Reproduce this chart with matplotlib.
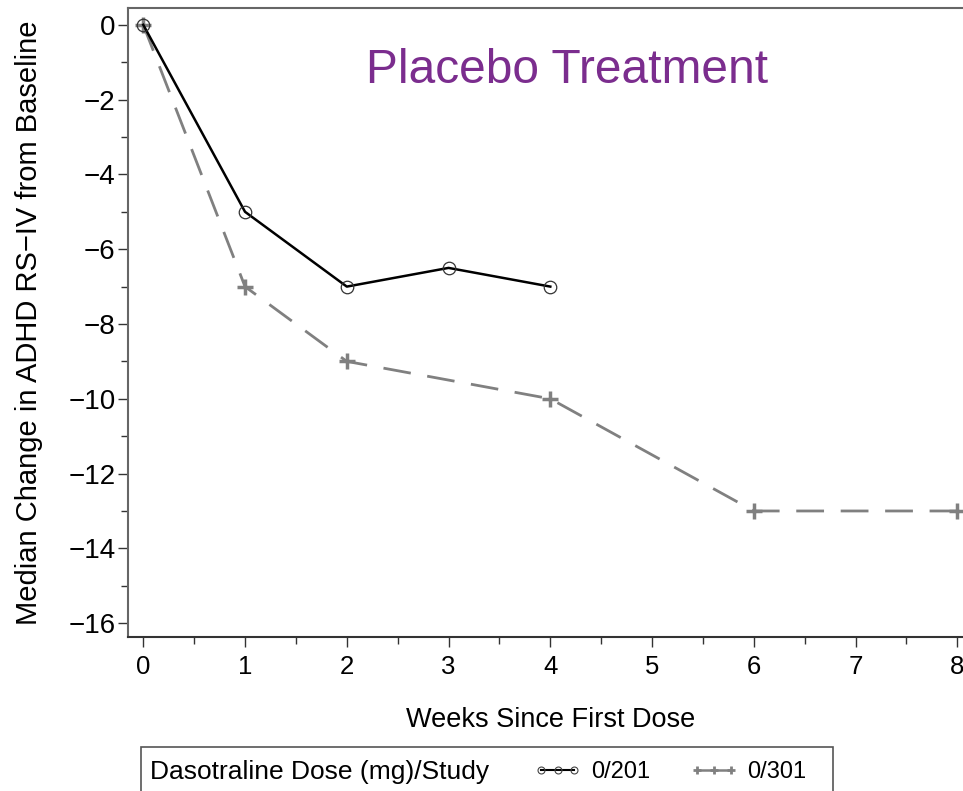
import numpy as np
import matplotlib
matplotlib.use("Agg")
import matplotlib.pyplot as plt
from matplotlib.lines import Line2D
from matplotlib.patches import Rectangle
from matplotlib.ticker import MultipleLocator

plt.rcParams['font.family'] = ['Liberation Sans', 'DejaVu Sans']

# data
weeks_201 = [0, 1, 2, 3, 4]
median_201 = [0, -5, -7, -6.5, -7]
weeks_301 = [0, 1, 2, 4, 6, 8]
median_301 = [0, -7, -9, -10, -13, -13]
labels = ['0/201', '0/301']
legend_title = 'Dasotraline Dose (mg)/Study'

fig = plt.figure(figsize=(9.63, 7.91), dpi=100)
ax = fig.add_axes([128/963, 1 - 637/791, 1 - 128/963 + 0.01, (637 - 8)/791])

gray = '#808080'
ax.plot(weeks_301, median_301, color=gray, lw=2, dashes=(10, 6),
        marker='+', ms=11, mew=2.5, label=labels[1], zorder=2)
ax.plot(weeks_201, median_201, color='black', lw=1.8,
        marker='o', ms=9, mfc='none', mec='#333333', mew=0.9, label=labels[0], zorder=3)

ax.set_xlim(-0.15, 8.15)
ax.set_ylim(-16.37, 0.45)
ax.xaxis.set_major_locator(MultipleLocator(1))
ax.xaxis.set_minor_locator(MultipleLocator(0.5))
ax.yaxis.set_major_locator(MultipleLocator(2))
ax.yaxis.set_minor_locator(MultipleLocator(1))
ax.tick_params(which='both', direction='out', color='#333333', labelsize=20)
ax.tick_params(which='major', length=7, width=1)
ax.tick_params(which='minor', length=5, width=1)
ax.tick_params(axis='x', pad=6, labelsize=18.5)
ax.tick_params(axis='y', pad=2)
ax.set_yticklabels([str(int(v)).replace('-', '\u2212') for v in ax.get_yticks()])
for s in ax.spines.values():
    s.set_color('#666666')
    s.set_linewidth(1.5)
ax.spines['bottom'].set_color('#333333')

ax.set_xlabel('Weeks Since First Dose', fontsize=19.5, labelpad=20)
ax.set_ylabel('Median Change in ADHD RS\u2212IV from Baseline', fontsize=21, labelpad=18)

ax.text(0.52, 0.9, 'Placebo Treatment', transform=ax.transAxes, ha='center', va='center',
        fontsize=34.5, color='#7B2D8E')

# legend box at the bottom
fig.patches.append(Rectangle((141/963, -0.02), (833 - 141)/963, (0.02 + 1 - 747/791),
                             transform=fig.transFigure, fill=False, ec='#555555', lw=1.2))
fig.text(150/963, 1 - 772/791, legend_title, fontsize=19, va='center', ha='left')
h1 = Line2D([], [], color='black', lw=1.5, marker='o', ms=5, mfc='none', mec='#444444', mew=0.8)
h2 = Line2D([], [], color=gray, lw=1.8, marker='+', ms=6, mew=2)
fig.legend([h1, h2], labels, loc='center left', bbox_to_anchor=(534/963, 1 - 772/791),
           ncol=2, frameon=False, fontsize=17, numpoints=3, handlelength=2.0,
           handletextpad=0.42, columnspacing=1.7, borderaxespad=0, borderpad=0)

fig.savefig('out.png', dpi=100)
